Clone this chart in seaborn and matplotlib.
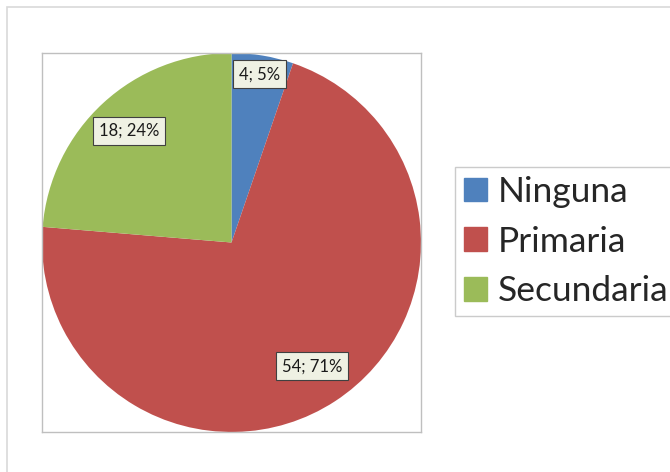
import numpy as np
import seaborn as sns
import matplotlib.pyplot as plt
from matplotlib.patches import Patch, Rectangle

categorias = ["Ninguna", "Primaria", "Secundaria"]
cantidades = [4, 54, 18]
porcentajes = ["5%", "71%", "24%"]

sns.set_style("white")
plt.rcParams['font.family'] = ['Lato', 'DejaVu Sans']

colors = ["#4f81bd", "#c0504d", "#9bbb59"]
distancias = [0.9, 0.78, 0.8]

fig = plt.figure(figsize = (6.7, 4.72), dpi = 100)

# marco exterior del grafico
fig.patches.append(Rectangle((7 / 670, -0.1), 1.1, (472 - 7) / 472 + 0.1,
                             transform = fig.transFigure, fill = False,
                             edgecolor = "#d9d9d9", linewidth = 1.2))

ax = fig.add_axes([42 / 670, 40 / 472, 379 / 670, 379 / 472])

etiquetas = iter([f"{c}; {p}" for c, p in zip(cantidades, porcentajes)])

wedges, textos, autotextos = ax.pie(
    cantidades,
    colors = colors,
    startangle = 90,
    counterclock = False,
    radius = 1,
    autopct = lambda pct: next(etiquetas),
    wedgeprops = {"linewidth": 0},
    textprops = {"fontsize": 12, "color": "#1a1a1a"}
)

# reubicar etiquetas segun el angulo medio de cada porcion
for w, t, d in zip(wedges, autotextos, distancias):
    ang = np.deg2rad((w.theta1 + w.theta2) / 2)
    t.set_position((d * np.cos(ang), d * np.sin(ang)))
    t.set_bbox(dict(boxstyle = "square,pad=0.35", facecolor = "#eff1e3",
                    edgecolor = "#404040", linewidth = 0.8))

ax.set_xlim(-1, 1)
ax.set_ylim(-1, 1)
ax.set_aspect("equal")
ax.set_frame_on(True)
for s in ax.spines.values():
    s.set_visible(True)
    s.set_color("#bfbfbf")
    s.set_linewidth(1)

handles = [Patch(facecolor = c, edgecolor = c) for c in colors]
leg = fig.legend(
    handles, categorias,
    loc = "upper left",
    bbox_to_anchor = (455 / 670, 1 - 167 / 472),
    fontsize = 25.5,
    frameon = True,
    fancybox = False,
    borderpad = 0.25,
    labelspacing = 0.5,
    handlelength = 0.65,
    handleheight = 0.65,
    handletextpad = 0.3,
    borderaxespad = 0
)
leg.get_frame().set_edgecolor("#bfbfbf")
leg.get_frame().set_linewidth(1)

plt.savefig("out.png", dpi = 100)
